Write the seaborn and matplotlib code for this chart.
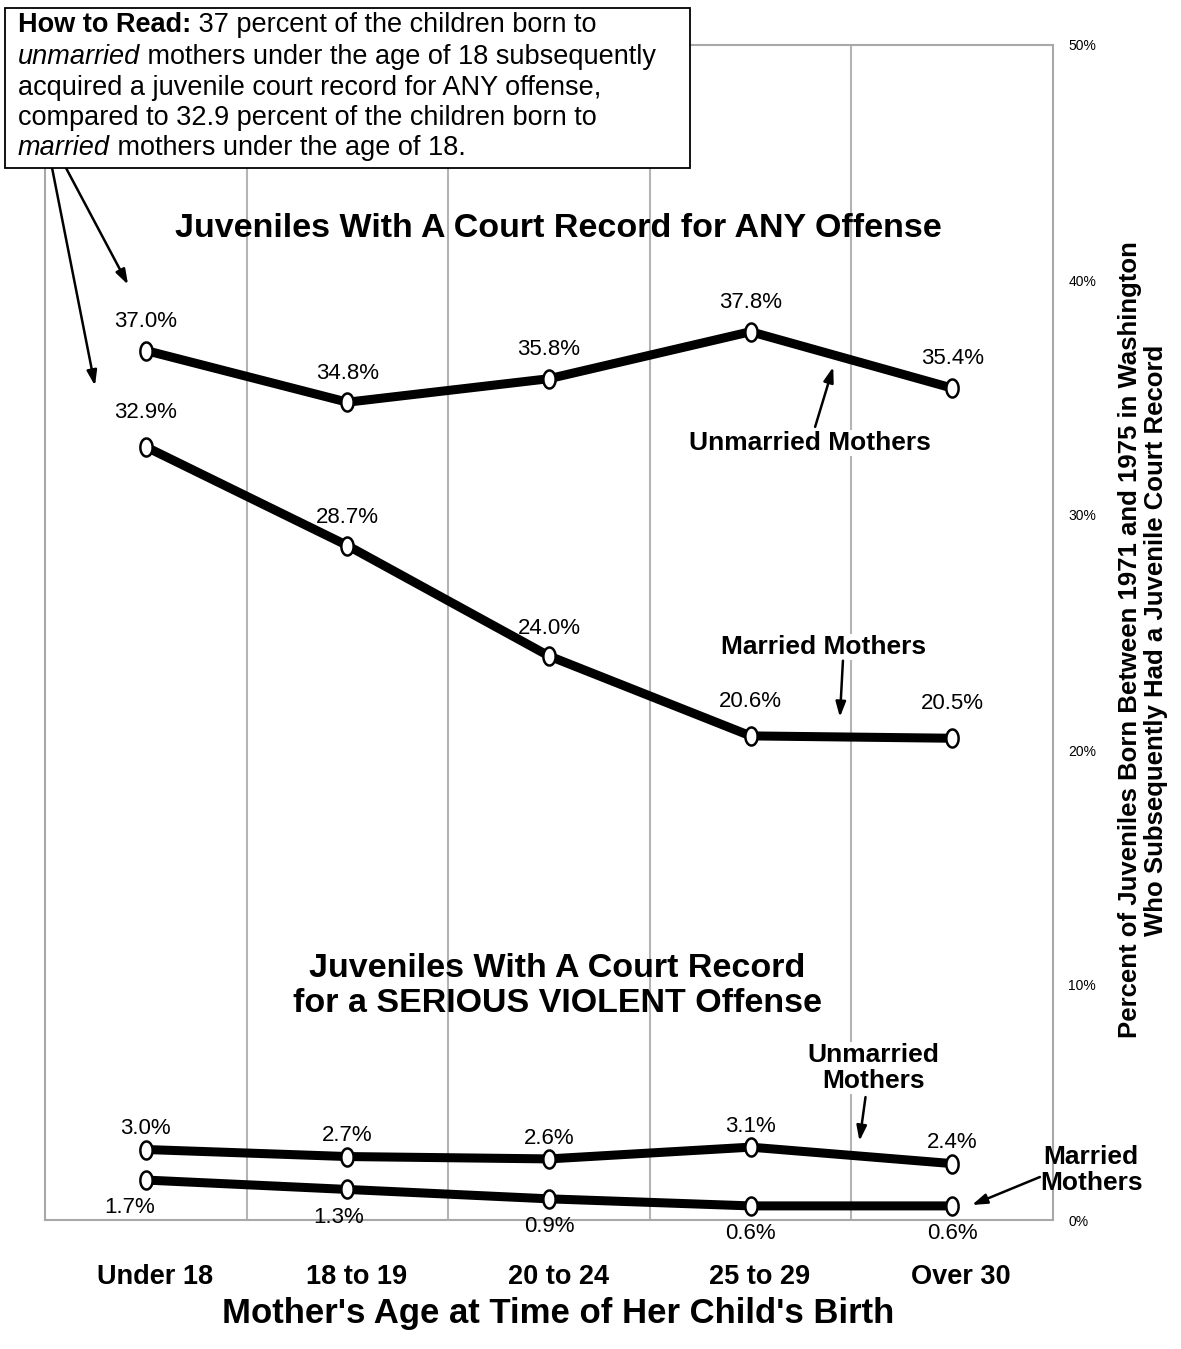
import numpy as np
import pandas as pd
import matplotlib
matplotlib.use("Agg")
import matplotlib.pyplot as plt
from matplotlib import font_manager
from matplotlib.path import Path
from matplotlib.patches import Rectangle
from matplotlib.transforms import ScaledTranslation
import seaborn as sns

# ---------------- data ----------------
ages = ["Under 18", "18 to 19", "20 to 24", "25 to 29", "Over 30"]
any_unmarried = [37.0, 34.8, 35.8, 37.8, 35.4]
any_married = [32.9, 28.7, 24.0, 20.6, 20.5]
serious_unmarried = [3.0, 2.7, 2.6, 3.1, 2.4]
serious_married = [1.7, 1.3, 0.9, 0.6, 0.6]
y_ticks = [0, 10, 20, 30, 40, 50]
y_tick_labels = ["0%", "10%", "20%", "30%", "40%", "50%"]

# ---------------- style ----------------
sns.set_style("white")
avail = {f.name for f in font_manager.fontManager.ttflist}
BASE = "Liberation Sans" if "Liberation Sans" in avail else "DejaVu Sans"
plt.rcParams["font.family"] = [BASE, "DejaVu Sans"]
plt.rcParams["text.color"] = "black"
plt.rcParams["axes.labelcolor"] = "black"

W, H = 1181, 1349
fig = plt.figure(figsize=(W / 100, H / 100), dpi=100)
L, R, T, B = 45, 1053, 45, 1220
ax = fig.add_axes([L / W, 1 - B / H, (R - L) / W, (B - T) / H])

x = np.arange(len(ages))
df = pd.DataFrame({
    "age_pos": np.tile(x, 4),
    "pct": any_unmarried + any_married + serious_unmarried + serious_married,
    "series": (["ANY unmarried"] * 5 + ["ANY married"] * 5 +
               ["SERIOUS unmarried"] * 5 + ["SERIOUS married"] * 5),
})

t = np.linspace(0, 2 * np.pi, 40)
ellipse = Path(np.column_stack([0.68 * np.cos(t), np.sin(t)]))

for name in ["ANY unmarried", "ANY married", "SERIOUS unmarried", "SERIOUS married"]:
    sub = df[df["series"] == name]
    sns.lineplot(data=sub, x="age_pos", y="pct", ax=ax, color="black",
                 linewidth=6.5, marker=ellipse, markersize=13,
                 markerfacecolor="white", markeredgecolor="black",
                 markeredgewidth=1.8, legend=False, zorder=3)

ax.set_xlim(-0.5, 4.5)
ax.set_ylim(0, 50)
ax.set_xticks(x)
ax.set_xticklabels(ages, fontsize=19.5, fontweight="bold", color="black")
ax.set_xticks(np.arange(0.5, 4.5, 1.0), minor=True)
ax.grid(False)
ax.xaxis.grid(True, which="minor", color="#b4b4b4", linewidth=1.5)
ax.tick_params(axis="x", which="both", length=0, pad=32)
ax.yaxis.tick_right()
ax.set_yticks(y_ticks)
ax.set_yticklabels(y_tick_labels, fontsize=10, color="black")
ax.tick_params(axis="y", length=0, pad=11)
for s in ax.spines.values():
    s.set_color("#a8a8a8")
    s.set_linewidth(1.5)

# shift category labels slightly right, as in the original
shift = ScaledTranslation(9 / 100, 0, fig.dpi_scale_trans)
for tick in ax.xaxis.get_major_ticks():
    tick.label1.set_transform(tick.label1.get_transform() + shift)

ax.set_xlabel("Mother's Age at Time of Her Child's Birth", fontsize=25,
              fontweight="bold", color="black")
ax.xaxis.set_label_coords(0.509, (B - 1313) / (B - T))
ax.xaxis.label.set_va("center")

ax.set_ylabel("Percent of Juveniles Born Between 1971 and 1975 in Washington\n"
              "Who Subsequently Had a Juvenile Court Record",
              fontsize=18.5, fontweight="bold", rotation=90, linespacing=1.15,
              color="black")
ax.yaxis.set_label_position("right")
ax.yaxis.set_label_coords((1143 - L) / (R - L), (B - 640) / (B - T))
ax.yaxis.label.set_va("center")
ax.yaxis.label.set_ha("center")

# ---------------- data labels ----------------
lab_kw = dict(textcoords="offset points", ha="center", va="center",
              fontsize=16, color="black", zorder=4)
for xi, v in zip(x, any_unmarried):
    ax.annotate(f"{v:.1f}%", (xi, v), xytext=(0, 21), **lab_kw)
for xi, v in zip(x, any_married):
    off = 25 if xi in (0, 3, 4) else 20
    ax.annotate(f"{v:.1f}%", (xi, v), xytext=(0, off), **lab_kw)
for xi, v in zip(x, serious_unmarried):
    ax.annotate(f"{v:.1f}%", (xi, v), xytext=(0, 15), **lab_kw)
for xi, v in zip(x, serious_married):
    dx = {0: -12, 1: -6}.get(xi, 0)
    ax.annotate(f"{v:.1f}%", (xi, v), xytext=(dx, -20), **lab_kw)

# ---------------- titles & callouts ----------------
bold_kw = dict(fontweight="bold", ha="center", va="center", color="black")
ax.text(2.045, 42.2, "Juveniles With A Court Record for ANY Offense",
        fontsize=24.5, **bold_kw)
ax.text(2.04, 9.95, "Juveniles With A Court Record\nfor a SERIOUS VIOLENT Offense",
        fontsize=24.5, linespacing=1.15, **bold_kw)

wbox = dict(facecolor="white", edgecolor="none", pad=1)
ax.text(3.295, 33.06, "Unmarried Mothers", fontsize=19, bbox=wbox, **bold_kw)
ax.text(3.364, 24.38, "Married Mothers", fontsize=19, bbox=wbox, **bold_kw)
ax.text(3.61, 6.47, "Unmarried\nMothers", fontsize=19, linespacing=1.1,
        bbox=wbox, **bold_kw)
ax.text(4.69, 2.13, "Married\nMothers", fontsize=19, linespacing=1.1,
        clip_on=False, **bold_kw)

arr = dict(arrowstyle="-|>,head_length=0.9,head_width=0.3", color="black",
           lw=1.8, shrinkA=0, shrinkB=0)
ax.annotate("", xy=(3.41, 36.3), xytext=(3.32, 33.75), arrowprops=arr)
ax.annotate("", xy=(3.443, 21.4), xytext=(3.458, 23.8), arrowprops=arr)
ax.annotate("", xy=(3.54, 3.36), xytext=(3.57, 5.23), arrowprops=arr)
ax.annotate("", xy=(4.098, 0.64), xytext=(4.435, 1.83), arrowprops=arr,
            annotation_clip=False)
ax.annotate("", xy=(-0.088, 39.8), xytext=(-0.396, 44.77), arrowprops=arr,
            annotation_clip=False)
ax.annotate("", xy=(-0.252, 35.5), xytext=(-0.465, 44.77), arrowprops=arr,
            annotation_clip=False)

# ---------------- "How to Read" box ----------------
fig.patches.append(Rectangle((5 / W, 1 - 168 / H), 685 / W, 160 / H,
                             transform=fig.transFigure, facecolor="white",
                             edgecolor="black", linewidth=1.3, zorder=5))
lines = [
    [("How to Read:", "bold", "normal"), (" 37 percent of the children born to", "normal", "normal")],
    [("unmarried", "normal", "italic"), (" mothers under the age of 18 subsequently", "normal", "normal")],
    [("acquired a juvenile court record for ANY offense,", "normal", "normal")],
    [("compared to 32.9 percent of the children born to", "normal", "normal")],
    [("married", "normal", "italic"), (" mothers under the age of 18.", "normal", "normal")],
]
line_y = [25, 57, 88, 118, 148]
renderer = fig.canvas.get_renderer()
for parts, py in zip(lines, line_y):
    cx = 18
    for txt, wt, st in parts:
        tt = fig.text(cx / W, 1 - py / H, txt, fontsize=19.5, fontweight=wt,
                      fontstyle=st, ha="left", va="center", zorder=6,
                      color="black")
        bb = tt.get_window_extent(renderer=renderer)
        cx += bb.width

fig.savefig("out.png", dpi=100)
